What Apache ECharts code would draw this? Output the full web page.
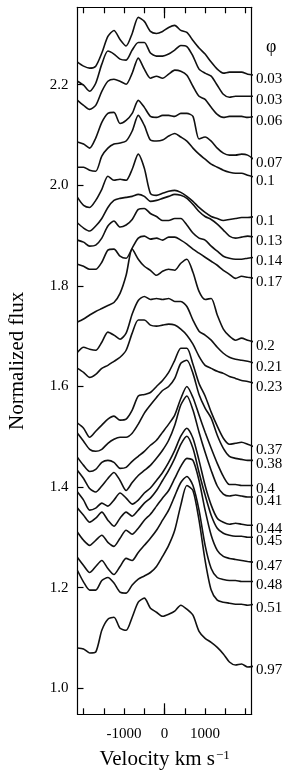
<!DOCTYPE html>
<html><head><meta charset="utf-8">
<script src="https://cdn.jsdelivr.net/npm/echarts@6/dist/echarts.min.js"></script>
<style>html,body{margin:0;padding:0;background:#fff}#c{width:291px;height:775px}</style>
</head><body><div id="c"></div>
<script>
// velocity grid (km/s); last point runs slightly past the frame, as in the original
const velocity = [-2150,-2000,-1850,-1700,-1550,-1400,-1250,-1100,-950,-800,-650,-500,-350,-200,-50,100,250,400,550,700,850,1000,1150,1300,1450,1600,1750,1900,2050,2230];
const phases = ['0.03','0.03','0.06','0.07','0.1','0.1','0.13','0.14','0.17','0.2','0.21','0.23','0.37','0.38','0.4','0.41','0.44','0.45','0.47','0.48','0.51','0.97'];

const f003a = [2.245,2.237,2.233,2.237,2.263,2.296,2.308,2.290,2.277,2.302,2.334,2.326,2.306,2.302,2.306,2.314,2.318,2.308,2.304,2.288,2.273,2.261,2.245,2.231,2.223,2.225,2.225,2.225,2.221,2.219];
const f003b = [2.207,2.199,2.187,2.203,2.241,2.267,2.261,2.251,2.249,2.269,2.284,2.284,2.263,2.257,2.257,2.261,2.269,2.278,2.276,2.257,2.231,2.223,2.217,2.199,2.181,2.175,2.177,2.177,2.177,2.177];
const f006 = [2.169,2.159,2.151,2.159,2.187,2.207,2.211,2.207,2.201,2.223,2.253,2.231,2.213,2.217,2.213,2.221,2.229,2.227,2.219,2.197,2.177,2.171,2.155,2.141,2.135,2.137,2.137,2.137,2.135,2.137];
const f007 = [2.086,2.082,2.074,2.094,2.125,2.143,2.145,2.123,2.129,2.143,2.169,2.155,2.137,2.135,2.139,2.139,2.137,2.143,2.143,2.137,2.092,2.096,2.088,2.074,2.064,2.060,2.060,2.062,2.060,2.050];
const f010a = [2.036,2.036,2.030,2.028,2.058,2.074,2.082,2.084,2.088,2.108,2.139,2.119,2.090,2.088,2.090,2.098,2.103,2.096,2.088,2.074,2.062,2.052,2.042,2.036,2.030,2.026,2.024,2.024,2.020,2.016];
const f010b = [1.976,1.960,1.956,1.970,1.992,2.018,2.010,2.012,2.010,2.032,2.062,2.034,1.984,1.980,1.984,1.988,1.990,1.986,1.978,1.968,1.956,1.946,1.938,1.934,1.930,1.932,1.934,1.936,1.936,1.938];
const f013 = [1.925,1.915,1.909,1.919,1.934,1.956,1.970,1.974,1.976,1.978,1.982,1.978,1.968,1.970,1.974,1.978,1.982,1.980,1.974,1.962,1.948,1.938,1.932,1.923,1.911,1.899,1.895,1.897,1.899,1.897];
const f014 = [1.891,1.887,1.879,1.881,1.895,1.919,1.929,1.917,1.921,1.932,1.952,1.954,1.944,1.938,1.930,1.930,1.934,1.934,1.921,1.905,1.895,1.891,1.879,1.869,1.859,1.855,1.853,1.853,1.855,1.857];
const f017 = [1.843,1.839,1.833,1.833,1.847,1.871,1.873,1.859,1.855,1.875,1.895,1.899,1.893,1.895,1.891,1.897,1.897,1.891,1.883,1.873,1.865,1.857,1.849,1.841,1.831,1.823,1.815,1.819,1.817,1.815];
const f020 = [1.728,1.734,1.742,1.749,1.755,1.761,1.767,1.785,1.821,1.873,1.853,1.839,1.831,1.821,1.829,1.833,1.831,1.845,1.853,1.827,1.789,1.773,1.775,1.742,1.714,1.700,1.692,1.696,1.692,1.688];
const f021 = [1.668,1.678,1.674,1.672,1.688,1.708,1.702,1.694,1.706,1.744,1.771,1.779,1.773,1.775,1.773,1.775,1.769,1.769,1.759,1.732,1.710,1.702,1.692,1.678,1.666,1.658,1.654,1.652,1.650,1.646];
const f023 = [1.636,1.628,1.618,1.624,1.636,1.642,1.650,1.658,1.672,1.706,1.732,1.732,1.722,1.720,1.722,1.724,1.722,1.714,1.702,1.684,1.660,1.642,1.636,1.630,1.626,1.620,1.616,1.612,1.610,1.606];
const f037 = [1.527,1.517,1.499,1.511,1.523,1.535,1.541,1.533,1.535,1.553,1.581,1.584,1.588,1.600,1.612,1.628,1.652,1.676,1.676,1.644,1.606,1.581,1.549,1.521,1.497,1.485,1.487,1.489,1.485,1.479];
const f038 = [1.507,1.491,1.475,1.471,1.475,1.487,1.495,1.499,1.499,1.507,1.525,1.547,1.563,1.578,1.592,1.600,1.616,1.646,1.652,1.626,1.584,1.557,1.537,1.503,1.477,1.461,1.457,1.455,1.453,1.453];
const f040 = [1.459,1.443,1.431,1.435,1.449,1.453,1.449,1.437,1.439,1.451,1.461,1.471,1.483,1.493,1.509,1.525,1.543,1.576,1.600,1.578,1.543,1.509,1.477,1.447,1.421,1.405,1.405,1.403,1.403,1.403];
const f041 = [1.433,1.417,1.397,1.390,1.402,1.417,1.429,1.413,1.393,1.409,1.423,1.433,1.443,1.457,1.473,1.493,1.523,1.563,1.581,1.553,1.509,1.469,1.433,1.402,1.386,1.382,1.384,1.382,1.380,1.380];
const f044 = [1.390,1.374,1.354,1.358,1.368,1.362,1.374,1.388,1.378,1.366,1.374,1.388,1.398,1.413,1.429,1.449,1.473,1.501,1.517,1.497,1.453,1.403,1.364,1.338,1.330,1.326,1.328,1.326,1.324,1.324];
const f045 = [1.358,1.344,1.330,1.338,1.350,1.334,1.322,1.338,1.350,1.342,1.354,1.368,1.378,1.393,1.413,1.433,1.457,1.485,1.501,1.477,1.429,1.384,1.344,1.318,1.308,1.304,1.302,1.302,1.300,1.300];
const f047 = [1.310,1.294,1.284,1.294,1.304,1.290,1.282,1.298,1.314,1.306,1.318,1.334,1.346,1.362,1.378,1.393,1.417,1.441,1.457,1.453,1.413,1.354,1.304,1.274,1.262,1.258,1.256,1.254,1.252,1.250];
const f048 = [1.260,1.244,1.230,1.242,1.254,1.238,1.226,1.242,1.258,1.254,1.270,1.284,1.298,1.314,1.334,1.354,1.382,1.409,1.421,1.403,1.354,1.284,1.238,1.220,1.216,1.214,1.214,1.212,1.212,1.212];
const f051 = [1.234,1.211,1.195,1.195,1.214,1.220,1.209,1.191,1.189,1.205,1.217,1.223,1.230,1.242,1.262,1.284,1.314,1.364,1.403,1.393,1.334,1.254,1.195,1.175,1.171,1.169,1.167,1.167,1.165,1.167];
const f097 = [1.080,1.078,1.070,1.072,1.115,1.137,1.141,1.119,1.115,1.141,1.171,1.179,1.159,1.151,1.143,1.147,1.153,1.165,1.157,1.145,1.113,1.099,1.091,1.081,1.068,1.052,1.046,1.048,1.042,1.044];

const spectra = [f003a,f003b,f006,f007,f010a,f010b,f013,f014,f017,f020,f021,f023,f037,f038,f040,f041,f044,f045,f047,f048,f051,f097];

const xTicks = [-2000,-1500,-1000,-500,0,500,1000,1500,2000];
const xLabels = [-1000,0,1000];
const yTicks = [1.0,1.2,1.4,1.6,1.8,2.0,2.2];

const FONT = '"Liberation Serif","Times New Roman",serif';
const XMIN = -2150, XMAX = 2150, YMIN = 0.948, YMAX = 2.354;
const black = '#000';

const series = spectra.map((arr, i) => ({
  type: 'line',
  xAxisIndex: 0, yAxisIndex: 0,
  data: velocity.map((v, j) => [v, arr[j]]),
  symbol: 'none', showSymbol: false, clip: false, smooth: 0.25,
  lineStyle: {color: '#111', width: 1.6},
  endLabel: {show: true, formatter: phases[i], distance: 3, offset: [0, 4],
             color: black, fontFamily: FONT, fontSize: 15},
  silent: true
}));

const tickStyle = {color: black, width: 1.2};
const option = {
  animation: false,
  backgroundColor: '#fff',
  title: {text: 'φ', left: 266, top: 38, padding: 0,
          textStyle: {fontFamily: FONT, fontSize: 18, fontWeight: 'normal', color: black}},
  grid: {left: 77.5, right: 39.3, top: 7.3, bottom: 60.7, containLabel: false, outerBoundsMode: 'none'},
  xAxis: [
    {type: 'value', position: 'bottom', min: XMIN, max: XMAX,
     axisLine: {show: true, onZero: false, lineStyle: tickStyle},
     axisTick: {show: true, inside: true, length: 6, customValues: xTicks, lineStyle: tickStyle},
     axisLabel: {show: true, customValues: xLabels, formatter: v => String(v), margin: 12,
                 color: black, fontFamily: FONT, fontSize: 15},
     splitLine: {show: false},
     name: '{a|Velocity km s}{b|−1}', nameLocation: 'middle', nameGap: 35,
     nameTextStyle: {rich: {
       a: {fontFamily: FONT, fontSize: 21, color: black},
       b: {fontFamily: FONT, fontSize: 13, color: black, verticalAlign: 'top', padding: [0, 0, 0, 1]}
     }}},
    {type: 'value', position: 'bottom', min: XMIN, max: XMAX,
     axisLine: {show: false, onZero: false},
     axisTick: {show: true, inside: true, length: 11, customValues: [0], lineStyle: tickStyle},
     axisLabel: {show: false}, splitLine: {show: false}},
    {type: 'value', position: 'top', min: XMIN, max: XMAX,
     axisLine: {show: true, onZero: false, lineStyle: tickStyle},
     axisTick: {show: true, inside: true, length: 6, customValues: xTicks, lineStyle: tickStyle},
     axisLabel: {show: false}, splitLine: {show: false}},
    {type: 'value', position: 'top', min: XMIN, max: XMAX,
     axisLine: {show: false, onZero: false},
     axisTick: {show: true, inside: true, length: 11, customValues: [0], lineStyle: tickStyle},
     axisLabel: {show: false}, splitLine: {show: false}}
  ],
  yAxis: [
    {type: 'value', position: 'left', min: YMIN, max: YMAX,
     axisLine: {show: true, onZero: false, lineStyle: tickStyle},
     axisTick: {show: true, inside: true, length: 6, customValues: yTicks, lineStyle: tickStyle},
     axisLabel: {show: true, customValues: yTicks, formatter: v => v.toFixed(1), margin: 9,
                 color: black, fontFamily: FONT, fontSize: 15},
     splitLine: {show: false},
     name: 'Normalized flux', nameLocation: 'middle', nameGap: 50, nameRotate: 90,
     nameTextStyle: {fontFamily: FONT, fontSize: 21, color: black}},
    {type: 'value', position: 'right', min: YMIN, max: YMAX,
     axisLine: {show: true, onZero: false, lineStyle: tickStyle},
     axisTick: {show: false}, axisLabel: {show: false}, splitLine: {show: false}}
  ],
  series: series
};

const chart = echarts.init(document.getElementById('c'), null, {renderer: 'canvas'});
chart.setOption(option);
</script>
</body></html>
